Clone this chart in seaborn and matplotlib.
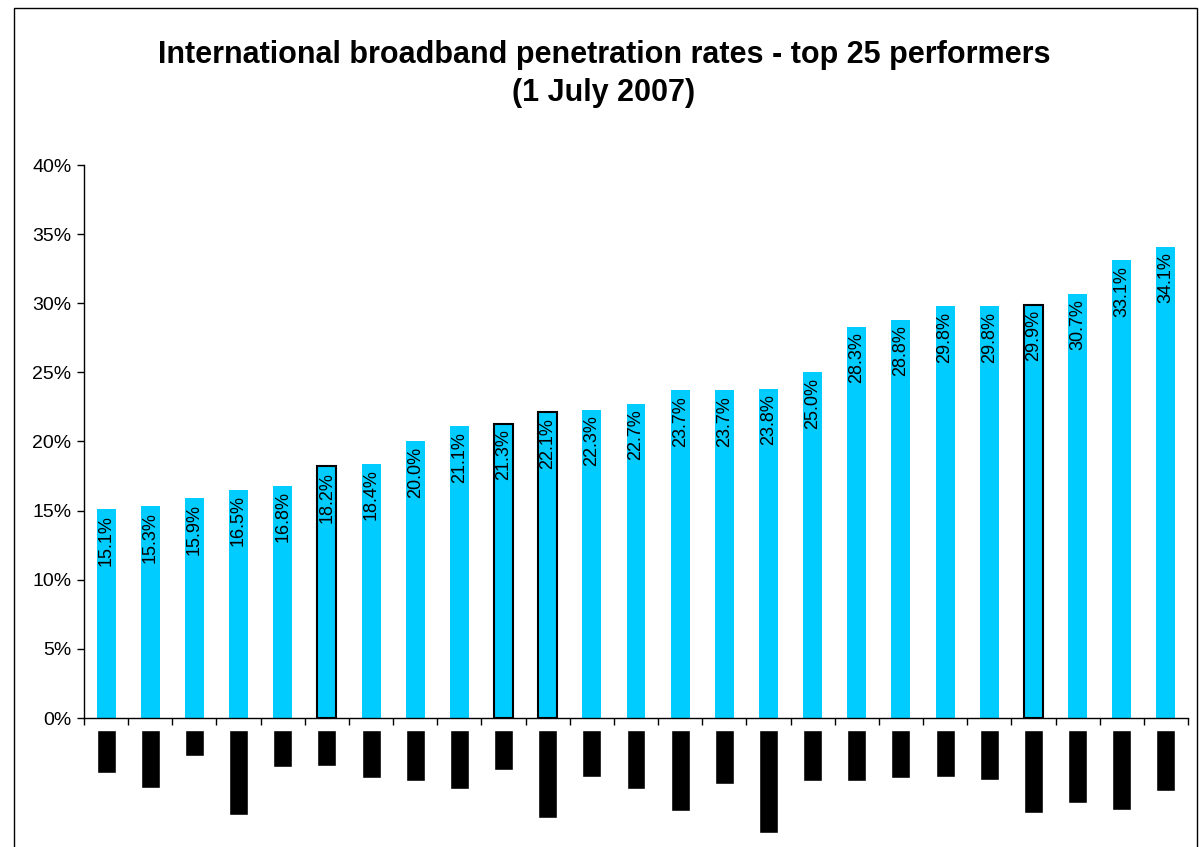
import matplotlib
matplotlib.use("Agg")
import matplotlib.pyplot as plt
import seaborn as sns
import pandas as pd
from matplotlib.patches import Rectangle

sns.set_style("white")
plt.rcParams['font.family'] = ['Liberation Sans', 'DejaVu Sans']
plt.rcParams['text.color'] = 'black'
plt.rcParams['xtick.color'] = 'black'
plt.rcParams['ytick.color'] = 'black'

# Data (country names are redacted in the reference -> shown as black blocks)
ranks = [str(i) for i in range(1, 26)]
rates = [15.1, 15.3, 15.9, 16.5, 16.8, 18.2, 18.4, 20.0, 21.1, 21.3, 22.1, 22.3,
         22.7, 23.7, 23.7, 23.8, 25.0, 28.3, 28.8, 29.8, 29.8, 29.9, 30.7, 33.1, 34.1]
highlighted = [False, False, False, False, False, True, False, False, False, True,
               True, False, False, False, False, False, False, False, False, False,
               False, True, False, False, False]
# depth of the redacted label blocks (relative units)
label_block_depth = [43, 58, 26, 85, 37, 36, 48, 51, 59, 40, 88, 47, 59, 81, 54,
                     103, 51, 51, 48, 47, 50, 83, 73, 80, 61]
yticks = [0, 5, 10, 15, 20, 25, 30, 35, 40]
ytick_labels = [f"{v}%" for v in yticks]

df = pd.DataFrame({"rank": ranks, "rate": rates})

W, H = 1199, 847
fig = plt.figure(figsize=(W / 100, H / 100), dpi=100)

ax = fig.add_axes([84 / W, (H - 718) / H, (1188 - 84) / W, (718 - 165) / H])
sns.barplot(data=df, x="rank", y="rate", color="#00CCFF", saturation=1,
            width=0.43, ax=ax)
for p, hl in zip(ax.patches, highlighted):
    p.set_linewidth(0)
    if hl:
        p.set_edgecolor("black")
        p.set_linewidth(1.5)

for i, v in enumerate(rates):
    ax.annotate(f"{v:.1f}%", xy=(i, v), xytext=(0, -4), textcoords="offset points",
                rotation=90, ha="center", va="top", fontsize=13, color="black")

ax.set_xlim(-0.5, len(rates) - 0.5)
ax.set_ylim(0, 40)
ax.set_yticks(yticks)
ax.set_yticklabels(ytick_labels, fontsize=14, color="black")
ax.set_xticks([i - 0.5 for i in range(len(rates) + 1)])
ax.set_xticklabels([])
ax.set_xlabel("")
ax.set_ylabel("")
ax.tick_params(axis="both", direction="out", length=5, width=1, color="black",
               left=True, bottom=True, pad=4)
for s in ["top", "right"]:
    ax.spines[s].set_visible(False)
for s in ["left", "bottom"]:
    ax.spines[s].set_color("black")
    ax.spines[s].set_linewidth(1)

# redacted label blocks under the axis
ax2 = fig.add_axes([84 / W, 0, (1188 - 84) / W, (H - 730) / H])
sns.barplot(x=ranks, y=[-d for d in label_block_depth], color="black",
            saturation=1, width=0.43, ax=ax2)
ax2.set_xlim(-0.5, len(rates) - 0.5)
ax2.set_ylim(-(H - 730), 0)
ax2.axis("off")

fig.text(604 / W, 1 - 55 / H, "International broadband penetration rates - top 25 performers",
         ha="center", va="center", fontsize=22, fontweight="bold", color="black")
fig.text(604 / W, 1 - 93 / H, "(1 July 2007)", ha="center", va="center",
         fontsize=22, fontweight="bold", color="black")

# outer chart frame
fig.patches.append(Rectangle((14 / W, -0.01), (1197 - 14) / W, 1 - 8 / H + 0.01,
                             transform=fig.transFigure, fill=False,
                             edgecolor="black", linewidth=1))

fig.savefig("out.png", dpi=100)
